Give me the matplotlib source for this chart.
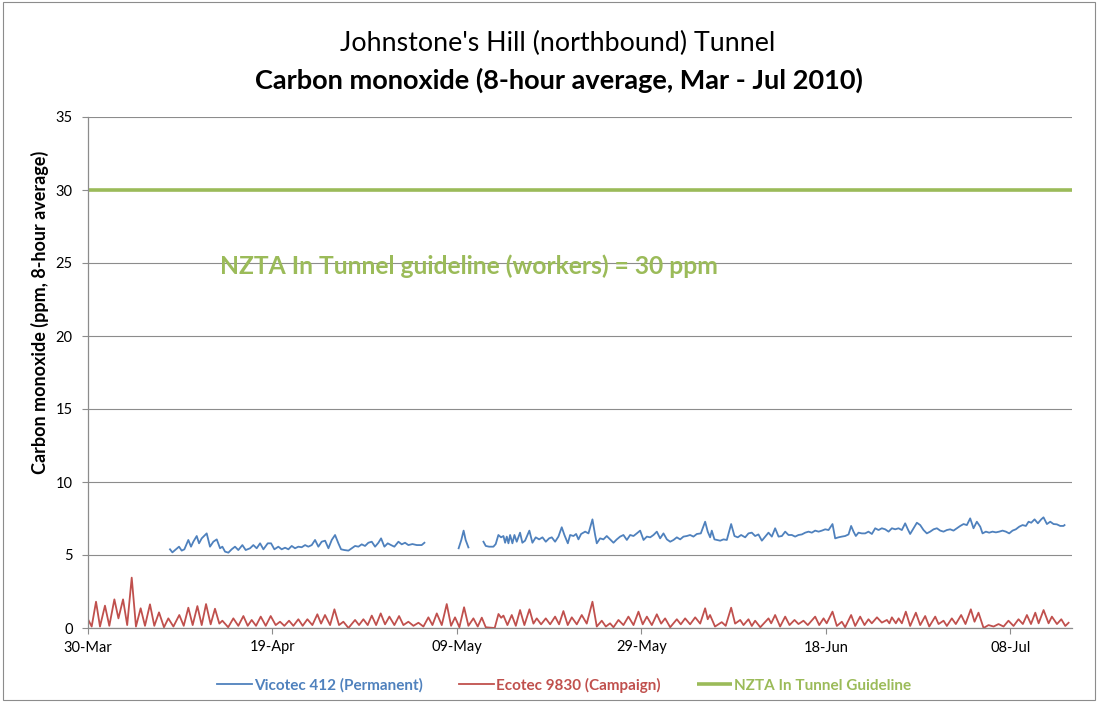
import numpy as np
import pandas as pd
import matplotlib
matplotlib.use("Agg")
import matplotlib.pyplot as plt
from matplotlib.patches import Rectangle

plt.rcParams['font.family'] = ['Lato', 'DejaVu Sans']

# ---------------- data ----------------
start_date = "2010-03-30"
end_offset_days = 106.7

# Ecotec 9830 (Campaign): day offsets from 30-Mar and CO (ppm)
ecotec_days = [0.04, 0.4, 0.87, 1.3, 1.84, 2.31, 2.86, 3.3, 3.8, 4.25, 4.74, 5.2, 5.71, 6.18, 6.72,
               7.19, 7.7, 8.24, 8.71, 9.26, 9.9, 10.38, 10.88, 11.35, 11.86, 12.33, 12.8, 13.3, 13.77,
               14.24, 14.57, 15.2, 15.76, 16.3, 16.85, 17.32, 17.75, 18.22, 18.73, 19.27, 19.81, 20.35,
               20.82, 21.29, 21.8, 22.27, 22.81, 23.28, 23.79, 24.33, 24.87, 25.27, 25.7, 26.25, 26.72,
               27.22, 27.69, 28.24, 28.96, 29.39, 29.86, 30.33, 30.77, 31.24, 31.74, 32.21, 32.68, 33.22,
               33.73, 34.2, 34.74, 35.29, 35.83, 36.37, 36.91, 37.35, 37.82, 38.36, 38.9, 39.37, 39.8,
               40.27, 40.78, 41.25, 41.79, 42.26, 42.7, 43.13, 44.1, 44.51, 44.8, 45.05, 45.48, 45.95,
               46.39, 46.85, 47.32, 47.87, 48.3, 48.66, 49.13, 49.64, 50.11, 50.65, 51.08, 51.55, 52.02,
               52.46, 53.0, 53.54, 54.08, 54.7, 55.17, 55.71, 56.15, 56.61, 56.98, 57.52, 58.06, 58.6,
               59.15, 59.69, 60.15, 60.6, 61.14, 61.68, 62.15, 62.58, 63.13, 63.85, 64.28, 64.75, 65.29,
               65.84, 66.38, 66.92, 67.2, 67.45, 67.99, 68.72, 69.15, 69.74, 70.17, 70.72, 71.08, 71.62,
               71.98, 72.34, 72.9, 73.79, 74.08, 74.51, 75.05, 75.6, 76.07, 76.61, 77.04, 77.58, 78.05,
               78.85, 79.29, 79.76, 80.1, 80.73, 81.2, 81.74, 82.1, 82.75, 83.19, 83.73, 84.2, 84.63,
               84.99, 85.55, 86.08, 86.63, 86.9, 87.17, 87.6, 87.9, 88.25, 88.68, 89.15, 89.77, 90.24,
               90.78, 91.22, 91.87, 92.23, 92.77, 93.13, 93.67, 94.1, 94.68, 95.15, 95.73, 96.13, 96.56,
               97.11, 97.65, 98.2, 98.73, 99.28, 99.81, 100.36, 100.9, 101.37, 101.81, 102.25, 102.72,
               103.08, 103.62, 104.16, 104.52, 105.07, 105.54, 105.97, 106.33]
ecotec_ppm = [0.55, 0.1, 1.8, 0.1, 1.53, 0.15, 1.96, 0.66, 1.96, 0.2, 3.45, 0.1, 1.35, 0.15, 1.62,
              0.15, 1.07, 0.05, 0.66, 0.1, 0.89, 0.15, 1.39, 0.2, 1.5, 0.2, 1.64, 0.25, 1.32,
              0.3, 0.5, 0.05, 0.66, 0.15, 0.82, 0.15, 0.55, 0.15, 0.78, 0.15, 0.82, 0.2,
              0.43, 0.15, 0.5, 0.15, 0.6, 0.15, 0.6, 0.2, 0.94, 0.3, 0.89, 0.2, 1.28,
              0.2, 0.43, 0.0, 0.55, 0.2, 0.6, 0.2, 0.85, 0.2, 1.0, 0.25, 0.78, 0.2,
              0.82, 0.2, 0.43, 0.15, 0.36, 0.1, 0.73, 0.2, 1.0, 0.2, 1.64, 0.15, 0.73,
              0.05, 1.42, 0.15, 0.66, 0.1, 0.71, 0.05, 0.0, 0.96, 0.7, 0.85, 0.2, 0.89,
              0.15, 1.23, 0.2, 1.28, 0.3, 0.66, 0.25, 0.66, 0.25, 0.78, 0.25, 1.16, 0.2,
              0.73, 0.25, 0.89, 0.3, 1.8, 0.1, 0.5, 0.1, 0.32, 0.05, 0.55, 0.2, 0.78,
              0.2, 1.12, 0.25, 0.78, 0.2, 0.94, 0.3, 0.66, 0.05, 0.6, 0.25, 0.66, 0.25,
              0.73, 0.3, 1.35, 0.6, 0.89, 0.1, 0.4, 0.15, 1.39, 0.3, 0.55, 0.2, 0.6,
              0.14, 0.5, 0.05, 0.66, 0.32, 0.89, 0.1, 0.78, 0.2, 0.55, 0.27, 0.5, 0.2,
              0.78, 0.2, 0.66, 0.32, 1.12, 0.14, 0.43, 0.05, 0.89, 0.14, 0.78, 0.2, 0.6,
              0.32, 0.73, 0.37, 0.55, 0.32, 0.73, 0.32, 0.66, 0.32, 1.12, 0.14, 1.05, 0.2,
              0.82, 0.1, 0.78, 0.27, 0.5, 0.14, 0.66, 0.27, 0.89, 0.27, 1.28, 0.43, 1.05,
              0.0, 0.2, 0.1, 0.27, 0.1, 0.5, 0.14, 0.6, 0.27, 0.89, 0.27, 1.05,
              0.32, 1.23, 0.32, 0.78, 0.27, 0.6, 0.14, 0.36]

# Vicotec 412 (Permanent): day offsets and CO (ppm); NaN marks data gaps
nan = float("nan")
vicotec_days = [8.89, 9.15, 9.44, 9.87, 10.16, 10.45, 10.88, 11.17, 11.42, 11.79, 12.04, 12.33, 12.87,
                13.23, 13.59, 13.96, 14.32, 14.57, 14.86, 15.22, 15.58, 15.94, 16.3, 16.74, 17.1, 17.57,
                17.93, 18.29, 18.66, 19.02, 19.49, 19.85, 20.21, 20.64, 21.0, 21.37, 21.73, 22.09, 22.45,
                22.81, 23.17, 23.54, 23.89, 24.26, 24.62, 24.98, 25.34, 25.71, 26.07, 26.43, 26.79, 27.15,
                27.44, 27.8, 28.24, 28.6, 28.96, 29.32, 29.68, 30.04, 30.4, 30.77, 31.13, 31.49, 31.78,
                32.14, 32.5, 32.86, 33.22, 33.66, 34.02, 34.38, 34.74, 35.18, 35.65, 36.01, 36.18, 36.48,
                38.0,
                40.19, 40.48, 40.73, 40.95, 41.25,
                42.0,
                42.88, 43.13, 43.49, 43.96, 44.21, 44.5, 44.79, 45.05, 45.23, 45.41, 45.59, 45.77, 46.02,
                46.24, 46.49, 46.85, 47.1, 47.39, 47.86, 48.19, 48.55, 48.92, 49.28, 49.64, 50.0, 50.29,
                50.65, 51.01, 51.37, 51.66, 52.03, 52.28, 52.64, 52.93, 53.18, 53.47, 53.91, 54.27, 54.7,
                54.99, 55.17, 55.53, 55.89, 56.25, 56.62, 56.98, 57.34, 57.7, 58.06, 58.43, 58.79, 59.15,
                59.51, 59.87, 60.24, 60.6, 60.96, 61.32, 61.68, 62.04, 62.4, 62.77, 63.13, 63.49, 63.85,
                64.21, 64.57, 64.93, 65.29, 65.65, 66.02, 66.45, 66.92, 67.2, 67.46, 67.64, 67.93, 68.19,
                68.55, 68.91, 69.27, 69.74, 70.1, 70.46, 70.82, 71.26, 71.62, 71.98, 72.34, 72.7, 73.07,
                73.43, 73.79, 74.15, 74.51, 74.88, 75.24, 75.6, 75.96, 76.32, 76.68, 77.04, 77.41, 77.77,
                78.13, 78.49, 78.85, 79.22, 79.58, 79.94, 80.3, 80.73, 81.02, 81.38, 81.74, 82.1, 82.47,
                82.75, 83.01, 83.26, 83.55, 83.91, 84.27, 84.63, 85.0, 85.36, 85.72, 86.08, 86.44, 86.81,
                87.17, 87.53, 87.89, 88.25, 88.61, 88.9, 89.15, 89.52, 89.88, 90.24, 90.6, 90.96, 91.32,
                91.69, 92.05, 92.41, 92.77, 93.13, 93.49, 93.85, 94.22, 94.58, 94.94, 95.3, 95.66, 96.02,
                96.38, 96.75, 97.0, 97.36, 97.72, 98.08, 98.45, 98.81, 99.17, 99.53, 99.89, 100.25,
                100.61, 100.98, 101.34, 101.7, 101.99, 102.28, 102.64, 103.0, 103.36, 103.61, 103.98,
                104.34, 104.7, 105.06, 105.42, 105.78, 105.89]
vicotec_ppm = [5.39, 5.18, 5.34, 5.57, 5.30, 5.39, 6.03, 5.57, 5.91, 6.30, 5.80, 6.14, 6.48,
               5.57, 5.91, 6.07, 5.46, 5.57, 5.23, 5.16, 5.39, 5.57, 5.34, 5.68, 5.34, 5.46,
               5.68, 5.46, 5.80, 5.39, 5.80, 5.80, 5.39, 5.57, 5.39, 5.50, 5.39, 5.62, 5.46,
               5.57, 5.53, 5.68, 5.57, 5.68, 6.03, 5.57, 5.91, 5.98, 5.46, 6.03, 6.37, 5.80,
               5.39, 5.34, 5.30, 5.46, 5.62, 5.57, 5.73, 5.62, 5.84, 5.91, 5.57, 5.84, 6.14,
               5.57, 5.80, 5.68, 5.57, 5.91, 5.73, 5.84, 5.68, 5.75, 5.68, 5.68, 5.68, 5.84,
               nan,
               5.46, 6.03, 6.67, 6.03, 5.52,
               nan,
               5.91, 5.62, 5.57, 5.57, 5.75, 6.37, 6.21, 6.30, 5.84, 6.26, 5.80, 6.37, 5.80,
               6.37, 5.91, 6.53, 5.84, 5.98, 6.67, 5.84, 6.21, 6.07, 6.21, 5.91, 6.14, 6.21,
               5.91, 6.26, 6.90, 6.37, 5.80, 6.37, 6.30, 6.44, 6.07, 6.44, 6.60, 6.48, 7.44,
               6.37, 5.80, 6.14, 6.07, 6.30, 6.07, 5.84, 6.07, 6.26, 6.37, 6.03, 6.37, 6.30,
               6.48, 6.67, 6.03, 6.26, 6.21, 6.37, 6.60, 6.14, 6.48, 6.07, 5.91, 6.03, 6.21,
               6.07, 6.26, 6.30, 6.37, 6.26, 6.44, 6.48, 7.28, 6.60, 6.21, 6.67, 6.07, 6.03,
               5.98, 6.07, 6.03, 7.12, 6.30, 6.21, 6.37, 6.21, 6.48, 6.53, 6.30, 6.41, 5.98,
               6.26, 6.53, 6.26, 6.83, 6.26, 6.30, 6.60, 6.37, 6.37, 6.26, 6.37, 6.41, 6.53,
               6.60, 6.53, 6.67, 6.60, 6.67, 6.76, 6.71, 7.12, 6.14, 6.21, 6.26, 6.30, 6.41,
               6.99, 6.60, 6.30, 6.53, 6.48, 6.48, 6.60, 6.44, 6.83, 6.71, 6.83, 6.76, 6.60,
               6.83, 6.76, 6.83, 6.71, 7.17, 6.76, 6.44, 6.83, 7.21, 7.05, 6.71, 6.48, 6.60,
               6.76, 6.83, 6.67, 6.60, 6.71, 6.76, 6.67, 6.83, 6.99, 7.12, 7.05, 7.51, 6.83,
               7.28, 6.94, 6.48, 6.60, 6.53, 6.60, 6.55, 6.60, 6.67, 6.60, 6.48, 6.67,
               6.76, 6.94, 7.05, 6.99, 7.28, 7.21, 7.44, 7.17, 7.44, 7.58, 7.12,
               7.28, 7.12, 7.10, 6.99, 6.99, 7.05]

guideline_ppm = 30

series_labels = ["Vicotec 412 (Permanent)", "Ecotec 9830 (Campaign)", "NZTA In Tunnel Guideline"]
x_tick_labels = ["30-Mar", "19-Apr", "09-May", "29-May", "18-Jun", "08-Jul"]
x_tick_offsets = [0, 20, 40, 60, 80, 100]
y_ticks = [0, 5, 10, 15, 20, 25, 30, 35]

title_line1 = "Johnstone's Hill (northbound) Tunnel"
title_line2 = "Carbon monoxide (8-hour average, Mar - Jul 2010)"
y_label = "Carbon monoxide (ppm, 8-hour average)"
guideline_note = "NZTA In Tunnel guideline (workers) = 30 ppm"

# ---------------- plotting ----------------
BLUE = "#4F81BD"
RED = "#C0504D"
GREEN = "#9BBB59"
GRID = "#8C8C8C"

t0 = pd.Timestamp(start_date)
def to_dates(days):
    return t0 + pd.to_timedelta(np.asarray(days, dtype=float), unit="D")

fig = plt.figure(figsize=(10.98, 7.02), dpi=100)
ax = fig.add_axes([88 / 1098, 1 - 628 / 702, (1072 - 88) / 1098, (628 - 117) / 702])

ax.plot(to_dates(vicotec_days), vicotec_ppm, color=BLUE, lw=1.3, label=series_labels[0])
ax.plot(to_dates(ecotec_days), ecotec_ppm, color=RED, lw=1.3, label=series_labels[1])
x_end = t0 + pd.Timedelta(days=end_offset_days)
ax.plot([t0, x_end], [guideline_ppm, guideline_ppm], color=GREEN, lw=2.6,
        label=series_labels[2], solid_capstyle="butt")

ax.set_xlim(t0, x_end)
ax.set_ylim(0, 35)
ax.set_yticks(y_ticks)
ax.set_yticklabels([str(v) for v in y_ticks])
ax.set_xticks(to_dates(x_tick_offsets))
ax.set_xticklabels(x_tick_labels)

ax.yaxis.grid(True, color=GRID, lw=0.8)
ax.set_axisbelow(True)
for s in ["top", "right"]:
    ax.spines[s].set_visible(False)
for s in ["left", "bottom"]:
    ax.spines[s].set_color(GRID)
    ax.spines[s].set_linewidth(0.9)
ax.tick_params(axis="both", colors=GRID, length=4, width=0.8, direction="out",
               labelsize=10.5, labelcolor="black")
ax.tick_params(axis="y", pad=7)
ax.tick_params(axis="x", pad=5)

ax.text((220 - 88) / 984, (628 - 266) / 511, guideline_note, transform=ax.transAxes,
        color=GREEN, fontsize=17.7, fontweight="bold", ha="left", va="center")

fig.text(558 / 1098, 1 - 43 / 702, title_line1, ha="center", va="center", fontsize=19.3)
fig.text(559 / 1098, 1 - 80 / 702, title_line2, ha="center", va="center", fontsize=19.5,
         fontweight="bold")
fig.text(40 / 1098, 1 - 312 / 702, y_label, rotation=90, ha="center", va="center",
         fontsize=13, fontweight="bold")

leg = fig.legend(loc="center", bbox_to_anchor=(564 / 1098, 1 - 685 / 702), ncol=3,
                 frameon=False, handlelength=2.3, handletextpad=0.15, columnspacing=2.35,
                 prop={"size": 11, "weight": "bold"}, labelcolor="linecolor")

fig.patches.append(Rectangle((3 / 1098, 2 / 702), 1092 / 1098, 698 / 702, transform=fig.transFigure,
                             fill=False, edgecolor="#8C8C8C", lw=0.8))

fig.savefig("out.png", dpi=100)
